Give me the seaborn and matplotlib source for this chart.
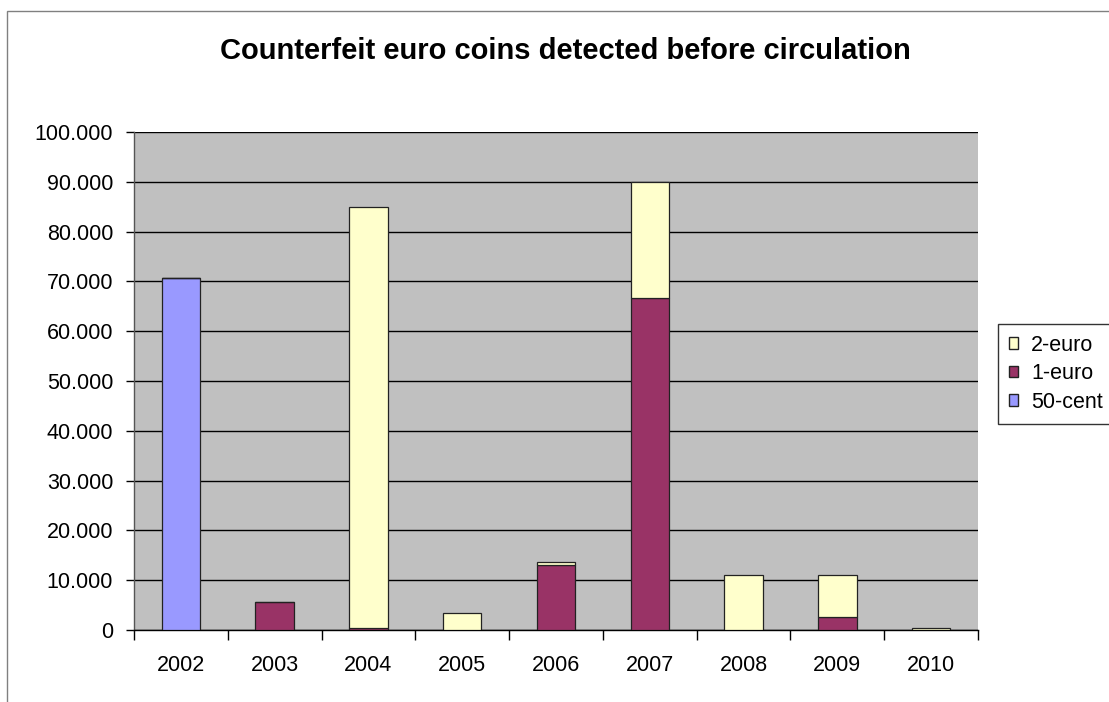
import numpy as np
import matplotlib
matplotlib.use("Agg")
import matplotlib.pyplot as plt
import matplotlib.patches as mpatches
from matplotlib.ticker import FuncFormatter, FixedLocator
import seaborn as sns

# Data
years = ['2002', '2003', '2004', '2005', '2006', '2007', '2008', '2009', '2010']
cent50 = np.array([70700, 0, 0, 0, 0, 0, 0, 0, 0])
euro1 = np.array([0, 5700, 400, 0, 13000, 66700, 0, 2600, 0])
euro2 = np.array([0, 0, 84600, 3500, 600, 23300, 11100, 8500, 350])

col_2 = '#FFFFCC'
col_1 = '#993366'
col_50 = '#9999FF'

sns.set_style("white")
plt.rcParams['font.family'] = ['Liberation Sans', 'DejaVu Sans']
plt.rcParams['text.color'] = 'black'

fig = plt.figure(figsize=(11.09, 7.02), dpi=100)
ax = fig.add_axes([134 / 1109, 72 / 702, (978 - 134) / 1109, (630 - 132) / 702])
ax.set_facecolor('#C0C0C0')

# Stacked bars
sns.barplot(x=years, y=cent50, color=col_50, width=0.41, edgecolor='#222222',
            linewidth=0.9, ax=ax, zorder=3, saturation=1)
sns.barplot(x=years, y=euro1, bottom=cent50, color=col_1, width=0.41, edgecolor='#222222',
            linewidth=0.9, ax=ax, zorder=3, saturation=1)
sns.barplot(x=years, y=euro2, bottom=cent50 + euro1, color=col_2, width=0.41, edgecolor='#222222',
            linewidth=0.9, ax=ax, zorder=3, saturation=1)

ax.set_ylim(0, 100000)
ax.set_xlim(-0.5, len(years) - 0.5)
ax.set_yticks(np.arange(0, 100001, 10000))
ax.yaxis.set_major_formatter(FuncFormatter(lambda v, p: f'{int(v):,}'.replace(',', '.')))
ax.yaxis.grid(True, color='black', linewidth=1.0, zorder=1)
ax.set_axisbelow(True)
ax.set_xlabel('')
ax.set_ylabel('')

# Excel-like ticks: x tick marks between categories
ax.xaxis.set_minor_locator(FixedLocator(np.arange(-0.5, len(years), 1)))
ax.tick_params(axis='x', which='major', length=0, pad=18, labelsize=15.5, colors='black')
ax.tick_params(axis='x', which='minor', length=7, width=1, color='black', direction='out')
ax.tick_params(axis='y', length=6, width=1, pad=9, labelsize=15.5, colors='black', direction='out')
ax.tick_params(bottom=True, left=True, which='both')

for s in ['top', 'right']:
    ax.spines[s].set_visible(False)
ax.spines['left'].set_color('#555555')
ax.spines['bottom'].set_color('black')
ax.spines['left'].set_linewidth(1)
ax.spines['bottom'].set_linewidth(1)

# Title
fig.text(565 / 1109, 1 - 51 / 702, 'Counterfeit euro coins detected before circulation',
         ha='center', va='center', fontsize=21, fontweight='bold', color='black')

# Legend (reverse order of stack)
handles = [mpatches.Patch(facecolor=col_2, edgecolor='#222222', label='2-euro'),
           mpatches.Patch(facecolor=col_1, edgecolor='#222222', label='1-euro'),
           mpatches.Patch(facecolor=col_50, edgecolor='#222222', label='50-cent')]
leg = fig.legend(handles=handles, loc='upper left', bbox_to_anchor=(998 / 1109, 1 - 324 / 702),
                 fontsize=15.5, frameon=True, fancybox=False, handlelength=0.45, handleheight=0.45,
                 handletextpad=0.6, borderpad=0.5, labelspacing=0.35, borderaxespad=0)
leg.get_frame().set_edgecolor('black')
leg.get_frame().set_linewidth(1)

# Outer chart border
fig.patches.append(mpatches.Rectangle((7 / 1109, -0.1), 1.2, 1.1 - 11 / 702, transform=fig.transFigure,
                                      fill=False, edgecolor='#808080', linewidth=1))

fig.savefig('out.png', dpi=100)
